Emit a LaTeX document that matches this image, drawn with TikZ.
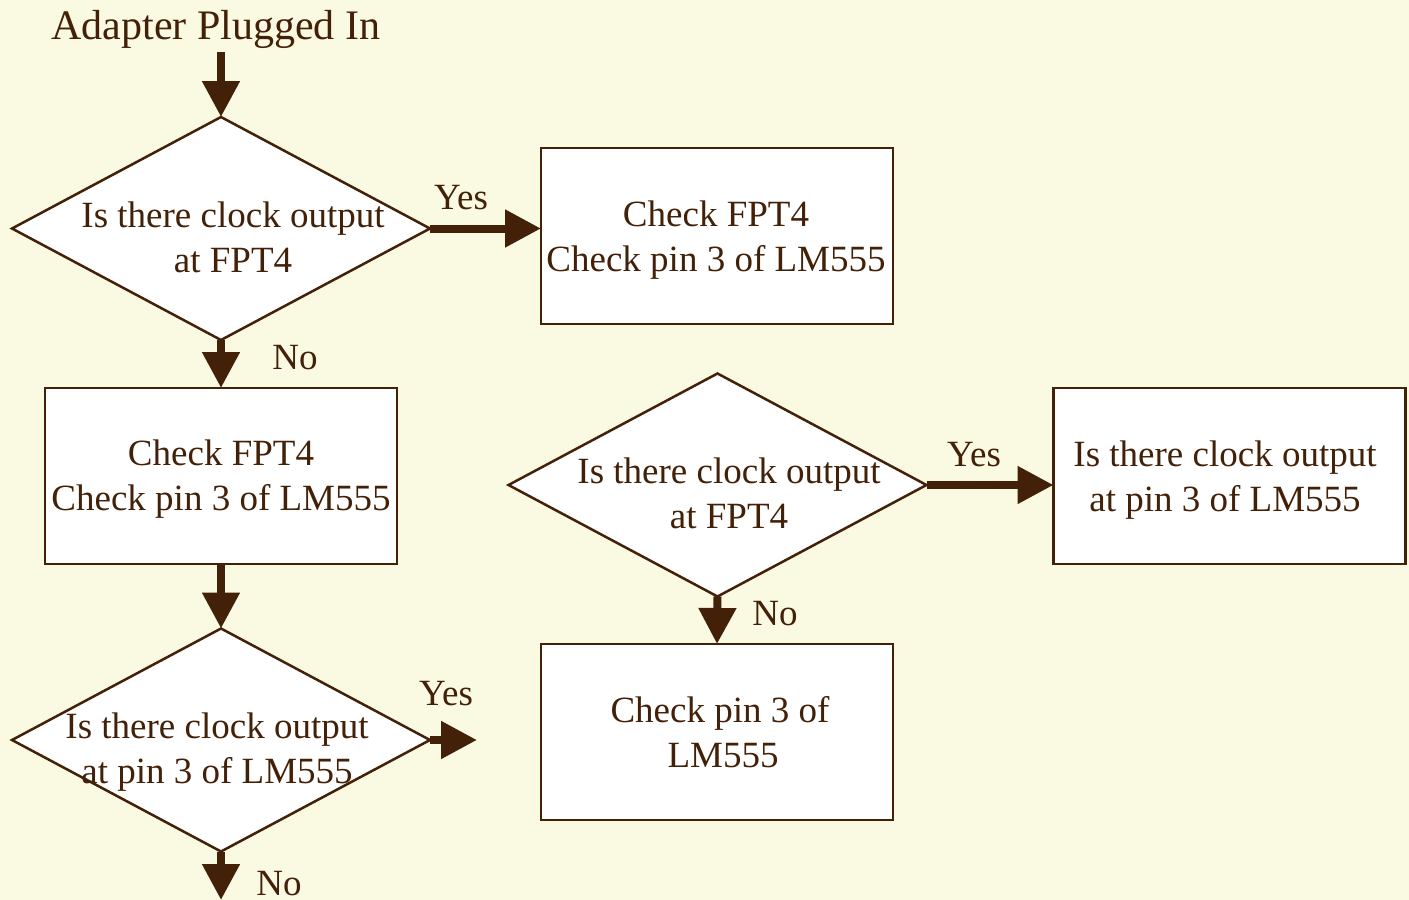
\documentclass[tikz,border=0pt]{standalone}
\usepackage{fontspec}
\setmainfont{Liberation Serif}
\usetikzlibrary{shapes.geometric,arrows.meta}
\definecolor{paper}{RGB}{250,249,225}
\definecolor{ink}{RGB}{66,33,8}
\tikzset{
  every node/.style={text=ink},
  txt/.style={align=center, inner sep=0pt, font=\fontsize{37}{45}\selectfont},
  lbl/.style={inner sep=0pt, font=\fontsize{37}{45}\selectfont},
  stepbox/.style={draw=ink, fill=white, line width=2.5pt, rectangle,
    minimum width=352pt, minimum height=176pt, inner sep=0pt, outer sep=0pt},
  decide/.style={draw=ink, fill=white, line width=2.5pt, diamond,
    minimum width=418pt, minimum height=223pt, inner sep=0pt, outer sep=0pt},
  flow/.style={draw=ink, line width=8pt,
    -{Triangle[length=36pt, width=36pt]}},
}
\begin{document}
\begin{tikzpicture}[x=1pt, y=-1pt]
  \useasboundingbox (0,0) rectangle (1409,900);
  \fill[paper] (0,0) rectangle (1409,900);

  % start
  \node[lbl, font=\fontsize{42}{50}\selectfont] (start) at (216,29) {Adapter Plugged In};
  \coordinate (startend) at (221,52);

  % decisions and steps
  \node[decide] (d1) at (221,228.5) {};
  \node[txt] (t1) at (233,237) {Is there clock output\\at FPT4};
  \node[stepbox] (b1) at (717,236) {};
  \node[txt] (bt1) at (716,240) {Check FPT4\\Check pin 3 of LM555};
  \node[stepbox] (b2) at (221,476) {};
  \node[txt] (bt2) at (221,479) {Check FPT4\\Check pin 3 of LM555};
  \node[decide] (d3) at (221,740) {};
  \node[txt] (t3) at (217,752) {Is there clock output\\at pin 3 of LM555};
  \node[decide] (d2) at (717.5,485) {};
  \node[txt] (t2) at (729,493) {Is there clock output\\at FPT4};
  \node[stepbox] (b3) at (1229.5,476) {};
  \node[txt] (bt3) at (1225,480) {Is there clock output\\at pin 3 of LM555};
  \node[stepbox] (b4) at (717,732) {};
  \node[txt] (bt4) at (720,732) {Check pin 3 of\\\hspace*{6pt}LM555};

  \coordinate (yesend) at (477,740);
  \coordinate (noend) at (221,900);

  % connectors
  \draw[flow] (startend) -- (d1.north);
  \draw[flow] (d1.east) -- (d1.east -| b1.west);
  \draw[flow] (d1.south) -- (b2.north);
  \draw[flow] (b2.south) -- (d3.north);
  \draw[flow] (d3.east) -- (yesend);
  \draw[flow] (d3.south) -- (noend);
  \draw[flow] (d2.east) -- (d2.east -| b3.west);
  \draw[flow] (d2.south) -- (b4.north);

  % branch labels
  \node[lbl] (y1) at (461,198) {Yes};
  \node[lbl] (n1) at (295,358) {No};
  \node[lbl] (y3) at (446,694) {Yes};
  \node[lbl] (n3) at (279,884) {No};
  \node[lbl] (y2) at (974,455) {Yes};
  \node[lbl] (n2) at (775,614) {No};
\end{tikzpicture}
\end{document}
